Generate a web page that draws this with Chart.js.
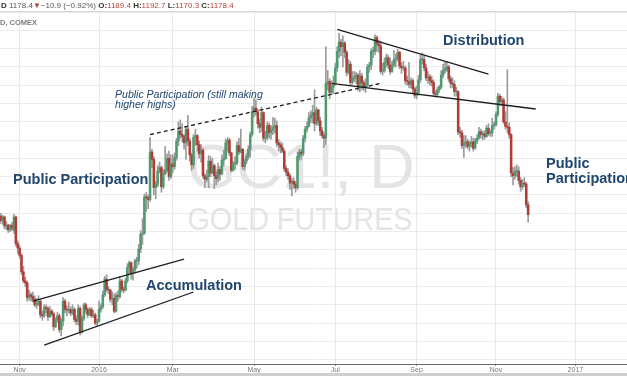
<!DOCTYPE html>
<html>
<head>
<meta charset="utf-8">
<script src="https://cdn.jsdelivr.net/npm/chart.js@4.4.0/dist/chart.umd.min.js"></script>
<style>
  html, body { margin: 0; padding: 0; background: #fff; }
  #wrap { position: relative; width: 627px; height: 376px; overflow: hidden; }
</style>
</head>
<body>
<div id="wrap"><canvas id="gc-chart" width="627" height="376"></canvas></div>
<script>
// GC1! daily candles, [open, high, low, close]
var oct2015 = [
  [1177,1180,1169,1172],[1172,1178,1168,1176],[1176,1177,1163,1166],[1166,1171,1162,1167],[1167,1168,1159,1162],
  [1162,1168,1160,1166],[1167,1170,1161,1164],[1162,1179,1158,1176],[1176,1177,1144,1147],[1147,1150,1136,1142]
];
var nov2015 = [
  [1142,1145,1131,1134],[1134,1136,1113,1116],[1116,1122,1104,1106],[1106,1110,1100,1104],[1104,1106,1084,1088],
  [1088,1096,1085,1091],[1091,1093,1084,1089],[1089,1094,1083,1086],[1086,1090,1078,1080],[1080,1087,1076,1081],
  [1081,1090,1079,1084],[1084,1086,1066,1069],[1069,1073,1063,1068],[1068,1080,1066,1077],[1077,1080,1071,1076],
  [1076,1078,1063,1067],[1067,1078,1066,1073],[1073,1075,1068,1070],[1070,1072,1052,1056],[1056,1066,1055,1064]
];
var dec2015 = [
  [1064,1072,1061,1068],[1068,1070,1050,1053],[1053,1065,1046,1062],[1062,1088,1057,1084],[1084,1086,1071,1075],
  [1075,1079,1068,1074],[1074,1083,1071,1075],[1075,1078,1068,1071],[1071,1080,1069,1075],[1075,1077,1061,1064],
  [1064,1068,1058,1062],[1062,1080,1058,1076],[1076,1078,1047,1050],[1050,1068,1049,1065],[1065,1082,1063,1080],
  [1080,1082,1071,1075],[1075,1077,1066,1069],[1069,1077,1068,1075],[1075,1077,1066,1068],[1068,1074,1066,1069],
  [1069,1071,1058,1060],[1060,1064,1057,1060]
];
var jan2016 = [
  [1062,1084,1061,1075],[1075,1081,1072,1078],[1078,1095,1076,1091],[1091,1111,1089,1108],[1108,1113,1094,1097],
  [1097,1100,1092,1096],[1096,1097,1083,1086],[1086,1094,1080,1087],[1087,1092,1071,1073],[1073,1093,1072,1090],
  [1090,1095,1084,1089],[1089,1111,1087,1106],[1106,1108,1094,1097],[1097,1100,1093,1096],[1096,1109,1095,1106],
  [1106,1125,1104,1121],[1121,1128,1113,1126],[1126,1127,1108,1114],[1114,1121,1107,1118]
];
var feb2016 = [
  [1118,1130,1115,1128],[1128,1132,1120,1128],[1128,1146,1124,1141],[1141,1161,1137,1157],[1157,1174,1146,1158],
  [1158,1201,1157,1198],[1198,1203,1182,1197],[1197,1200,1185,1195],[1195,1263,1193,1247],[1247,1250,1230,1239],
  [1239,1242,1200,1208],[1208,1215,1196,1211],[1211,1232,1209,1226],[1226,1236,1224,1230],[1230,1232,1203,1209],
  [1209,1228,1207,1223],[1223,1253,1222,1227],[1227,1245,1225,1240],[1240,1248,1216,1220],[1220,1244,1218,1234]
];
var mar2016 = [
  [1234,1244,1224,1231],[1231,1246,1228,1241],[1241,1262,1238,1259],[1259,1280,1254,1270],[1270,1282,1262,1266],
  [1266,1278,1258,1264],[1264,1266,1250,1257],[1257,1275,1239,1272],[1272,1287,1254,1259],[1259,1262,1237,1244],
  [1244,1246,1227,1233],[1233,1266,1229,1263],[1263,1272,1254,1265],[1265,1266,1248,1255],[1255,1259,1240,1245],
  [1245,1255,1236,1249],[1249,1251,1218,1221],[1221,1223,1208,1217],[1217,1227,1214,1220],[1220,1243,1208,1237],
  [1237,1242,1220,1224],[1224,1240,1223,1232]
];
var apr2016 = [
  [1232,1234,1207,1221],[1221,1226,1211,1218],[1218,1235,1214,1228],[1228,1231,1216,1223],[1223,1244,1222,1238],
  [1238,1249,1232,1240],[1240,1261,1239,1257],[1257,1263,1248,1260],[1260,1262,1243,1246],[1246,1247,1225,1227],
  [1227,1237,1226,1234],[1234,1242,1228,1235],[1235,1258,1233,1254],[1254,1262,1244,1247],[1247,1272,1246,1250],
  [1250,1251,1228,1231],[1231,1239,1227,1237],[1237,1245,1234,1242],[1242,1254,1239,1250],[1250,1269,1241,1266],
  [1266,1297,1264,1291]
];
var may2016 = [
  [1291,1306,1285,1295],[1295,1304,1287,1291],[1291,1294,1273,1278],[1278,1283,1268,1274],[1274,1296,1269,1290],
  [1290,1291,1259,1262],[1262,1270,1257,1263],[1263,1280,1260,1276],[1276,1279,1262,1268],[1268,1276,1261,1271],
  [1271,1285,1266,1274],[1274,1284,1268,1276],[1276,1281,1253,1257],[1257,1261,1248,1255],[1255,1258,1246,1252],
  [1252,1257,1246,1248],[1248,1250,1226,1229],[1229,1232,1221,1225],[1225,1229,1217,1221],[1221,1223,1206,1213],
  [1213,1218,1199,1215]
];
var jun2016 = [
  [1215,1219,1207,1212],[1212,1215,1203,1208],[1208,1247,1206,1242],[1242,1250,1238,1247],[1247,1250,1239,1245],
  [1245,1265,1243,1262],[1262,1275,1258,1272],[1272,1280,1269,1275],[1275,1290,1274,1284],[1284,1292,1279,1287],
  [1287,1298,1279,1290],[1290,1315,1270,1278],[1278,1296,1276,1293],[1293,1294,1276,1281],[1281,1285,1265,1270],
  [1270,1274,1262,1265],[1265,1268,1252,1262],[1262,1362,1255,1322],[1322,1336,1315,1324],[1324,1327,1305,1312],
  [1312,1325,1310,1318],[1318,1330,1311,1322]
];
var jul2016 = [
  [1322,1344,1320,1339],[1339,1362,1335,1357],[1357,1377,1350,1367],[1367,1370,1352,1362],[1362,1374,1340,1366],
  [1366,1368,1350,1356],[1356,1358,1330,1334],[1334,1348,1332,1343],[1343,1346,1320,1323],[1323,1335,1321,1327],
  [1327,1335,1324,1329],[1329,1334,1322,1331],[1331,1333,1314,1318],[1318,1336,1313,1330],[1330,1333,1315,1323],
  [1323,1325,1314,1318],[1318,1327,1312,1320],[1320,1343,1318,1340],[1340,1345,1334,1342],[1342,1360,1337,1357]
];
var aug2016 = [
  [1357,1362,1350,1357],[1357,1375,1353,1372],[1372,1374,1357,1365],[1365,1369,1356,1363],[1363,1368,1333,1335],
  [1335,1344,1331,1336],[1336,1350,1334,1345],[1345,1354,1340,1350],[1350,1353,1338,1342],[1342,1350,1332,1335],
  [1335,1346,1334,1342],[1342,1358,1340,1348],[1348,1354,1340,1349],[1349,1359,1346,1356],[1356,1357,1338,1341],
  [1341,1345,1333,1339],[1339,1346,1336,1339],[1339,1341,1321,1325],[1325,1330,1320,1324],[1324,1345,1317,1321],
  [1321,1328,1317,1325],[1325,1327,1311,1316],[1316,1318,1306,1309]
];
var sep2016 = [
  [1309,1319,1305,1312],[1312,1331,1309,1326],[1326,1353,1323,1348],[1348,1355,1343,1348],[1348,1352,1336,1339],
  [1339,1343,1325,1328],[1328,1335,1322,1329],[1329,1332,1320,1325],[1325,1330,1319,1323],[1323,1326,1309,1311],
  [1311,1314,1307,1310],[1310,1318,1308,1315],[1315,1320,1312,1318],[1318,1336,1316,1331],[1331,1343,1328,1336],
  [1336,1345,1333,1338],[1338,1346,1335,1340],[1340,1342,1324,1327],[1327,1330,1317,1322],[1322,1328,1317,1321],
  [1321,1325,1308,1313]
];
var oct2016 = [
  [1313,1318,1308,1313],[1313,1314,1266,1269],[1269,1274,1263,1268],[1268,1271,1251,1254],[1254,1265,1241,1257],
  [1257,1265,1252,1258],[1258,1261,1250,1253],[1253,1259,1248,1256],[1256,1264,1252,1258],[1258,1262,1248,1251],
  [1251,1262,1250,1259],[1259,1266,1256,1262],[1262,1274,1261,1269],[1269,1272,1262,1266],[1266,1270,1260,1267],
  [1267,1270,1261,1264],[1264,1276,1263,1273],[1273,1278,1265,1267],[1267,1271,1264,1268],[1268,1284,1264,1276],
  [1276,1280,1272,1277]
];
var nov2016 = [
  [1277,1291,1275,1288],[1288,1311,1286,1308],[1308,1310,1298,1302],[1302,1308,1298,1304],[1304,1306,1278,1280],
  [1280,1291,1272,1275],[1275,1337,1268,1274],[1274,1279,1262,1266],[1266,1267,1220,1224],[1224,1230,1211,1221],
  [1221,1231,1217,1226],[1226,1233,1220,1226],[1226,1231,1212,1216],[1216,1219,1204,1209],[1209,1217,1206,1213],
  [1213,1219,1209,1212],[1212,1214,1186,1189.3],[1189.4,1192.7,1170.3,1178.4]
];

var months = [oct2015, nov2015, dec2015, jan2016, feb2016, mar2016, apr2016,
              may2016, jun2016, jul2016, aug2016, sep2016, oct2016, nov2016];
var candles = [].concat.apply([], months);

// x axis: trading-day index of the first session of each labelled month
var tickLabels = ['Nov', '2016', 'Mar', 'May', 'Jul', 'Sep', 'Nov', '2017'];
var tickBars = [10, 52, 91, 134, 177, 220, 262, 304];

// drawn trend lines, [bar index, price] -> [bar index, price]
var accumTop = [[17, 1084], [97, 1130]];
var accumBottom = [[23, 1036], [102, 1094]];
var higherHighs = [[79, 1266], [201, 1322]];
var distTop = [[178, 1381], [258, 1332]];
var distBottom = [[175, 1322], [283, 1294]];

var upColor = '#4f9a70';
var downColor = '#b23b36';
var wickColor = '#9b9b9b';
var noteColor = '#21466e';
var FONT = '"Liberation Sans", Arial, sans-serif';

var lines = [
  {pts: accumTop}, {pts: accumBottom}, {pts: higherHighs, dash: [4, 3]},
  {pts: distTop}, {pts: distBottom}
];
var notes = [
  {text: 'Public Participation', at: [6.5, 1212], font: 'bold 14.5px ' + FONT},
  {text: 'Accumulation', at: [76.9, 1096.2], font: 'bold 14.5px ' + FONT},
  {text: 'Distribution', at: [234, 1363.9], font: 'bold 14.5px ' + FONT},
  {text: 'Public', at: [288.5, 1229.5], font: 'bold 14.5px ' + FONT},
  {text: 'Participation', at: [288.5, 1213.1], font: 'bold 14.5px ' + FONT},
  {text: 'Public Participation (still making', at: [60.5, 1306], font: 'italic 10.5px ' + FONT},
  {text: 'higher highs)', at: [60.5, 1295.1], font: 'italic 10.5px ' + FONT}
];

var wickData = candles.map(function(c, i) { return {x: i, y: [c[2], c[1]]}; });
var bodyData = candles.map(function(c, i) {
  return {x: i, y: [Math.min(c[0], c[3]), Math.max(c[0], c[3])]};
});
var bodyColors = candles.map(function(c) { return c[3] >= c[0] ? upColor : downColor; });

var overlay = {
  id: 'overlay',
  beforeDatasetsDraw: function(chart) {
    var ctx = chart.ctx;
    ctx.save();
    ctx.fillStyle = '#e4e4e4';
    ctx.textAlign = 'center';
    ctx.font = '63px ' + FONT;
    ctx.fillText('GC1!, D', 301, 188);
    ctx.font = '32px ' + FONT;
    ctx.fillText('GOLD FUTURES', 300, 230, 225);
    ctx.restore();
  },
  afterDatasetsDraw: function(chart) {
    var ctx = chart.ctx, xs = chart.scales.x, ys = chart.scales.y;
    ctx.save();
    ctx.strokeStyle = '#1e1e1e';
    ctx.lineWidth = 1.3;
    lines.forEach(function(l) {
      ctx.setLineDash(l.dash || []);
      ctx.beginPath();
      ctx.moveTo(xs.getPixelForValue(l.pts[0][0]), ys.getPixelForValue(l.pts[0][1]));
      ctx.lineTo(xs.getPixelForValue(l.pts[1][0]), ys.getPixelForValue(l.pts[1][1]));
      ctx.stroke();
    });
    ctx.setLineDash([]);
    ctx.fillStyle = noteColor;
    ctx.textAlign = 'left';
    notes.forEach(function(n) {
      ctx.font = n.font;
      ctx.fillText(n.text, xs.getPixelForValue(n.at[0]), ys.getPixelForValue(n.at[1]));
    });
    ctx.restore();
  },
  afterDraw: function(chart) {
    var ctx = chart.ctx;
    var last = candles[candles.length - 1], prev = candles[candles.length - 2];
    var chg = last[3] - prev[3];
    var red = '#b5443c', dark = '#333', grey = '#555';
    var pieces = [
      ['D ', dark, 'bold'],
      [last[3].toFixed(1), grey, ''],
      ['\u25BC', red, ''],
      ['\u2212' + Math.abs(chg).toFixed(1) + ' (\u2212' + (Math.abs(chg) / prev[3] * 100).toFixed(2) + '%) ', grey, ''],
      ['O:', dark, 'bold'], [last[0].toFixed(1) + ' ', red, ''],
      ['H:', dark, 'bold'], [last[1].toFixed(1) + ' ', red, ''],
      ['L:', dark, 'bold'], [last[2].toFixed(1) + ' ', red, ''],
      ['C:', dark, 'bold'], [last[3].toFixed(1), red, '']
    ];
    ctx.save();
    ctx.fillStyle = '#fff';
    ctx.fillRect(0, 0, 627, 11);
    var x = 1;
    pieces.forEach(function(p) {
      ctx.font = (p[2] ? 'bold ' : '') + '8px ' + FONT;
      ctx.fillStyle = p[1];
      ctx.fillText(p[0], x, 7.5);
      x += ctx.measureText(p[0]).width;
    });
    ctx.strokeStyle = '#d4d4d4';
    ctx.lineWidth = 1;
    ctx.beginPath();
    ctx.moveTo(0, 11.5);
    ctx.lineTo(627, 11.5);
    ctx.stroke();
    ctx.font = 'bold 7.5px ' + FONT;
    ctx.fillStyle = '#7d7d7d';
    ctx.fillText('D, COMEX', 0, 24.5);
    ctx.fillStyle = '#cfcfcf';
    ctx.fillRect(0, 373, 627, 3);
    ctx.restore();
  }
};

var ctx = document.getElementById('gc-chart').getContext('2d');

var chart = new Chart(ctx, {
  type: 'bar',
  data: {
    datasets: [
      {data: bodyData, backgroundColor: bodyColors, barThickness: 1.9, grouped: false,
       minBarLength: 1, borderWidth: 0},
      {data: wickData, backgroundColor: wickColor, barThickness: 1, grouped: false, borderWidth: 0}
    ]
  },
  options: {
    animation: false,
    responsive: false,
    devicePixelRatio: 1,
    layout: {padding: {top: 12, bottom: 2, left: 0, right: 0}},
    plugins: {legend: {display: false}, tooltip: {enabled: false}},
    scales: {
      x: {
        type: 'linear',
        min: -0.38,
        max: 331.3,
        offset: false,
        grid: {color: '#e9e9e9', offset: false, tickLength: 2, tickColor: '#888'},
        border: {color: '#6a6a6a', width: 1},
        afterBuildTicks: function(s) {
          s.ticks = tickBars.map(function(v) { return {value: v}; });
        },
        afterFit: function(s) { s.height = 10; },
        ticks: {
          autoSkip: false, maxRotation: 0, padding: 0, color: '#777',
          font: {size: 7, family: FONT},
          callback: function(v) {
            var k = tickBars.indexOf(v);
            return k < 0 ? '' : tickLabels[k];
          }
        }
      },
      y: {
        min: 1015.3,
        max: 1400,
        position: 'left',
        afterBuildTicks: function(s) {
          var t = [];
          for (var v = Math.ceil(s.min / 20) * 20; v <= s.max; v += 20) t.push({value: v});
          s.ticks = t;
        },
        afterFit: function(s) { s.width = 0; },
        ticks: {display: false},
        grid: {color: '#ececec', drawTicks: false},
        border: {display: false}
      }
    }
  },
  plugins: [overlay]
});
</script>
</body>
</html>
